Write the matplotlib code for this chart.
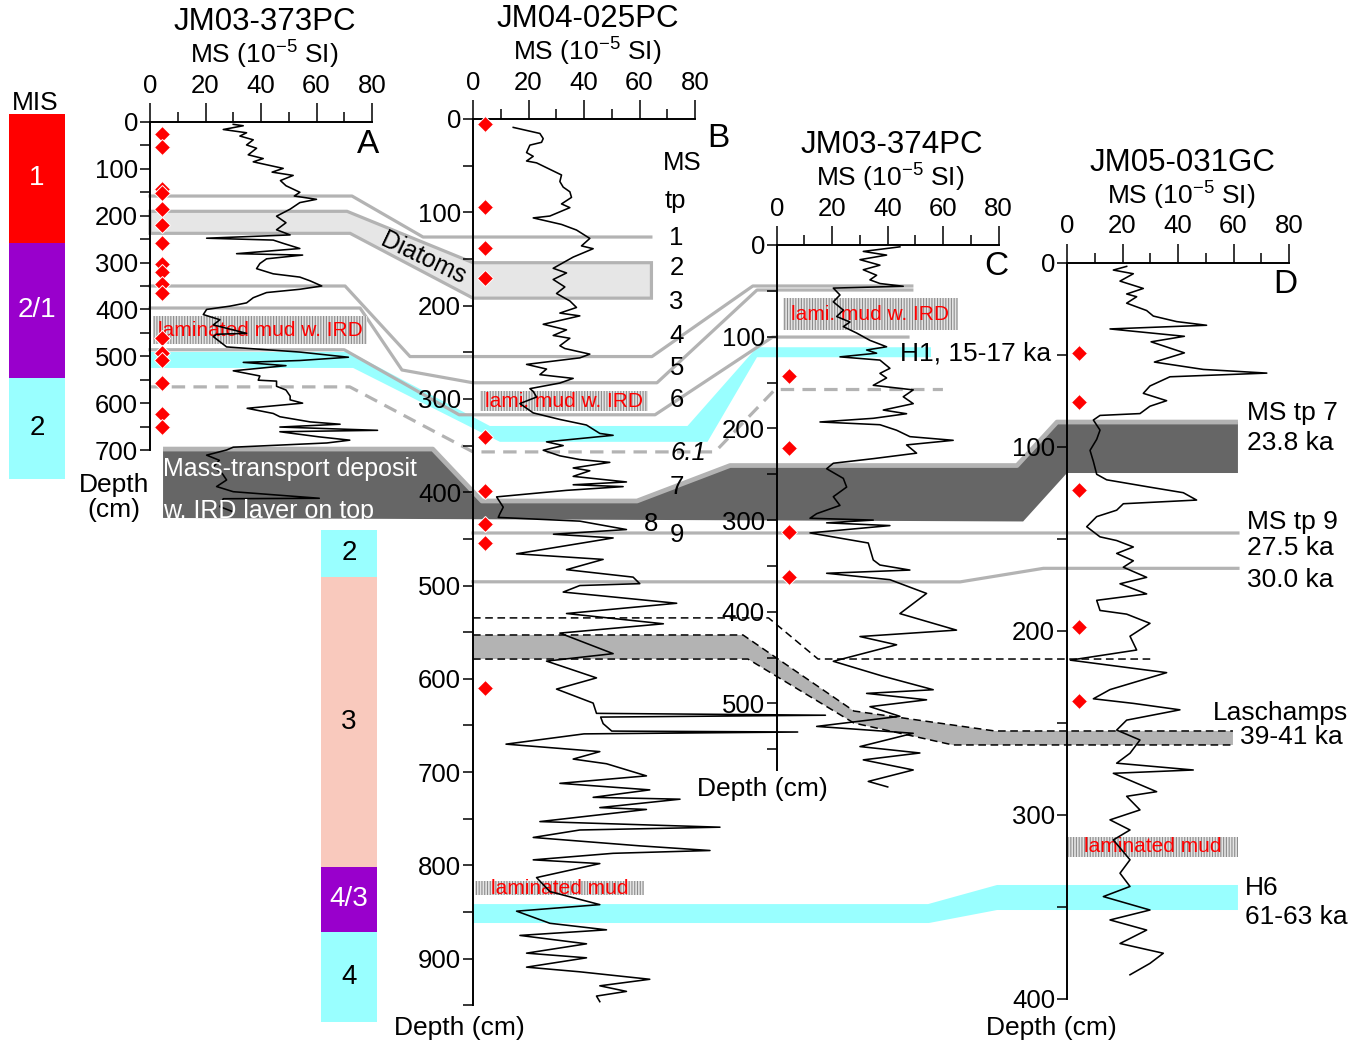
import numpy as np
import matplotlib
matplotlib.use("Agg")
import matplotlib.pyplot as plt
from matplotlib.patches import Polygon, Rectangle

plt.rcParams["font.family"] = ["Liberation Sans", "DejaVu Sans"]
plt.rcParams["mathtext.fontset"] = "custom"
plt.rcParams["mathtext.rm"] = "Liberation Sans"
plt.rcParams["mathtext.it"] = "Liberation Sans:italic"
plt.rcParams["hatch.linewidth"] = 0.8

W, H = 1362, 1048

# ---- magnetic susceptibility records (depth cm, MS 1e-5 SI) ----
a_depth = [5, 8, 16, 23, 30, 38, 49, 56, 70, 78, 85, 99, 107, 114, 125, 136, 150, 158, 165, 172,
           186, 201, 215, 230, 241, 248, 252, 259, 270, 281, 284, 292, 302, 313, 324, 331, 339, 350,
           357, 364, 375, 386, 393, 400, 411, 422, 433, 451, 453, 458, 469, 480, 491, 502, 509, 513,
           520, 531, 542, 551, 553, 564, 572, 585, 593, 600, 611, 622, 629, 640, 645, 651, 658, 661,
           672, 679, 685, 694, 700, 711, 722, 736, 750, 764, 778, 789, 803, 804, 821, 832]
a_ms = [30, 33.6, 26.4, 34.8, 32.4, 37.2, 34.8, 38.4, 35.4, 40.8, 37.2, 48, 44, 51.6, 47, 49, 54, 52, 60, 54,
        50.5, 45.6, 49, 45.6, 50.5, 20.4, 44.4, 48, 54, 31.2, 55, 42, 39.6, 38.4, 44.4, 54, 57.7, 61.9,
        54, 42, 37.2, 34.8, 28.8, 20.4, 19.2, 25.2, 22.8, 34.8, 24, 22.8, 25.2, 27.6, 54, 71.5, 54, 33.6,
        49, 30, 39.6, 39, 45.6, 45.6, 49, 50.5, 50.5, 55, 35, 44.4, 46.8, 57.7, 68.5, 46.8, 82, 46.8,
        61, 72, 63.7, 30, 27.6, 20.4, 25, 22.8, 26, 27.6, 24, 30, 61, 26.4, 25.2, 30]

b_depth = [9, 15.5, 21, 25, 28, 36, 40, 45, 47, 60, 67, 73, 78, 84, 91, 95, 104, 106, 113, 119,
           128, 136, 139, 148, 160, 165, 172, 180, 187, 195, 202, 208, 211, 220, 226, 232, 235, 243,
           246, 252, 256, 263, 268, 274, 278, 283, 289, 292, 298, 305, 315, 322, 328, 337, 339, 346,
           350, 355, 361, 365, 368, 374, 377, 383, 389, 392, 394, 398, 405, 416, 423, 427, 431, 440,
           445, 449, 466, 472, 483, 491, 498, 500, 507, 519, 530, 541, 551, 573, 581, 599, 611, 626,
           637, 639, 641, 648, 656, 657, 659, 670, 678, 686, 691, 704, 712, 719, 727, 729, 738, 740,
           753, 759, 762, 770, 779, 784, 787, 794, 798, 813, 828, 842, 849, 862, 869, 875, 884, 894,
           899, 909, 914, 922, 929, 935, 940, 946]
b_ms = [14.5, 24.1, 25.3, 24.7, 20.5, 19.3, 21.7, 19.3, 22.9, 31.9, 31.3, 32.5, 34.9, 35.5, 31.9, 34.9,
        27.7, 21.7, 31.9, 37.3, 42.1, 39.1, 43.3, 36.1, 28.9, 33.7, 28.9, 33.1, 30.1, 34.9, 37.3, 31.3,
        38.5, 25.3, 33.7, 28.9, 34.9, 31.3, 33.1, 42.1, 38.5, 19.3, 26.5, 24.1, 36.1, 31.3, 20.5, 21.7,
        22.9, 16.9, 21.7, 31.3, 40.9, 45.7, 50.5, 26.5, 32.5, 25.3, 31.3, 38.5, 49.3, 36.1, 42.1, 36.1,
        55.3, 36.1, 54.1, 33.7, 8.5, 10.9, 9.7, 9.1, 38.5, 55.3, 29, 50.5, 15.7, 46.9, 33.7, 57.7, 60.1,
        38.5, 32.5, 73.4, 33.7, 68.6, 31.3, 50.5, 26.5, 44.5, 30.1, 43.3, 44.5, 127, 46, 46.9, 50, 117,
        40, 11.9, 45.7, 36.1, 48.1, 62.5, 31.3, 63.7, 43.3, 74.6, 45.7, 62.5, 24.1, 89, 38.5, 21.7, 60.1,
        85.4, 50.5, 21.7, 45.7, 22.9, 27.7, 45.7, 15.7, 27.7, 48.1, 16.9, 40.9, 19.3, 40.9, 19.3, 38.5,
        63.7, 45.7, 55.3, 44.5, 45.7]

c_depth = [2, 7, 11, 16, 22, 27, 33, 38, 42, 45, 47, 54.5, 62, 71, 78, 84, 89, 96, 104, 111, 114.5,
           118, 122, 125.5, 134.5, 140, 145, 153, 158, 165.5, 173, 180, 184, 189, 193, 196, 202, 209,
           213, 218, 227, 233, 238, 244, 254.5, 264, 274.5, 284, 293, 298, 300, 303, 306, 314, 325,
           343.5, 349, 354.5, 358, 365, 380, 402, 420, 427, 436, 454, 470, 485, 489, 496, 503.5, 514,
           525, 532.5, 547, 554, 561.5, 572.5, 585, 591]
c_ms = [44.4, 31.2, 39.6, 30, 37.2, 31.2, 36, 33.6, 37.2, 45.6, 20.4, 22.8, 20.4, 24, 21.6, 26.4, 24,
        28.8, 33.6, 39.6, 32.4, 36, 22.8, 37.2, 40.8, 37.2, 39.6, 34.8, 49.2, 45.6, 49.2, 38.4, 46.8,
        34.8, 15.6, 37.2, 43.2, 48, 63.6, 46.8, 50.4, 34.8, 20.4, 18, 24, 25.2, 20.4, 22.8, 14.4, 12,
        34.8, 18, 40.8, 12, 33, 34.8, 37.2, 48, 18, 40.8, 54, 44.4, 64.8, 30, 43.2, 20.4, 38, 56.4, 32.4,
        54, 33.6, 44.4, 14.4, 49.2, 30, 51.6, 31.2, 49.2, 33, 40]

d_depth = [2, 4, 6, 10, 14, 17, 18.5, 22, 26, 29, 32, 34, 36, 40, 43, 49, 54, 58, 60, 62, 67, 71, 75,
           78, 82, 83, 85.5, 91, 96, 102, 108, 115, 118, 122, 125, 129, 131, 134.5, 138, 143.5, 149,
           151, 154.5, 158, 162, 165.5, 171, 174.5, 180, 183.5, 189, 191, 196, 203, 210.5, 216, 222.8,
           232, 237, 239.5, 243, 248.6, 254, 259.4, 266.6, 272, 275.7, 277.5, 287.5, 290, 297.4, 302.8,
           308.3, 313.7, 324.5, 331.8, 339, 344.5, 351.8, 357.2, 362.7, 370, 375.3, 380.8, 387]
d_ms = [21.5, 16.7, 23.9, 19.1, 27.5, 21.5, 25.1, 21.5, 28.7, 31.1, 39.5, 50.3, 15.5, 42.3, 30.3, 42.3,
        31.5, 49.1, 72, 37.1, 29.9, 27.5, 35.9, 29.9, 26.3, 11.9, 9.5, 11.9, 10.7, 8.3, 9.5, 10.7, 14.3,
        29.9, 41.9, 46.7, 20.3, 17.9, 10.7, 7.1, 11.9, 17.9, 23.9, 17.9, 23.9, 20.3, 28.7, 19.1, 28.7,
        10.7, 11.9, 21.5, 29.9, 22.7, 25.1, 1.2, 35.9, 15.5, 9.5, 23.9, 40.7, 21.5, 17.9, 26.3, 22.7,
        17.9, 45.5, 16.7, 32.3, 21.5, 26.3, 15.5, 22.7, 16.7, 22.7, 19.1, 22.7, 13.1, 29.9, 15.5, 28.7,
        19.1, 34.7, 29.9, 22.7]

# dated levels (red diamonds), depth in cm
a_dates = [25, 54, 143, 152, 185, 220, 259, 304, 320, 345, 366, 461, 494, 508, 558, 624, 651]
b_dates = [5, 94, 138, 170, 341, 399, 434, 454, 610]
c_dates = [143, 221, 313, 362]
d_dates = [49, 75.5, 123.5, 198, 238]

# marine isotope stages beside the cores
mis_upper_bounds = [-17, 258, 546, 762]
mis_upper_labels = ["1", "2/1", "2"]
mis_lower_bounds = [440, 491, 802, 871, 968]
mis_lower_labels = ["2", "3", "4/3", "4"]

# MS tie points labelled along core B
tp_labels = ["1", "2", "3", "4", "5", "6", "6.1", "7", "8", "9"]
tp_depth = [128, 160, 196, 233, 267, 301, 358, 394, 434, 446]

# laminated intervals: (core, MS left, MS right, depth top, depth base, text)
lam_layers = [("A", 1.2, 78.1, 415, 473, "laminated mud w. IRD"),
              ("B", 2.5, 63.2, 292, 313, "lami. mud w. IRD"),
              ("C", 2.3, 65.3, 58, 93, "lami. mud w. IRD"),
              ("B", 0.7, 61.7, 817, 832, "laminated mud"),
              ("D", 0.4, 61.5, 312, 323, "laminated mud")]

# correlation ties between cores: (core, MS-axis position, depth)
tp1_line = [("A", 0, 158), ("A", 72.8, 158), ("B", -18, 126.5), ("B", 64.1, 126.5)]
diatom_top = [("A", 0, 190.6), ("A", 71, 190.6), ("B", 0, 154), ("B", 64.3, 154)]
diatom_bot = [("A", 0, 237.6), ("A", 72.1, 237.6), ("B", 0, 192), ("B", 64.3, 192)]
tp45_line = [("A", 0, 350), ("A", 70.3, 350), ("B", -22.7, 254.6), ("B", 64.5, 254.6),
             ("C", -8.6, 44.7), ("C", 48.7, 44.7)]
tp55_line = [("A", 0, 397), ("A", 75.7, 397), ("B", -25.6, 269), ("B", 0, 282.7), ("B", 66.3, 282.7),
             ("C", -7.1, 49.1), ("C", 48.7, 49.1)]
tp6_line = [("A", 0, 486), ("A", 70, 486), ("B", -5, 317), ("B", 65.6, 317),
            ("C", -1.5, 100.4), ("C", 47.3, 100.4)]
h1_top = [("A", 0, 490.8), ("A", 72, 490.8), ("B", 6.1, 329), ("B", 77.3, 329),
          ("C", -7.1, 111.5), ("C", 55.6, 111.5)]
h1_bot = [("A", 0, 524.9), ("A", 73.2, 524.9), ("B", 9.7, 346), ("B", 84.5, 346),
          ("C", -7.1, 122.4), ("C", 55.6, 122.4)]
tp61_line = [("A", 0, 565.3), ("A", 72, 565.3), ("B", 0, 356.8), ("B", 87.2, 356.8),
             ("C", -0.6, 157.6), ("C", 59.9, 157.6)]
mtd_top = [("A", 4.7, 698), ("A", 101.9, 698), ("B", 3.2, 409.4), ("B", 59.1, 409.4),
           ("C", -16.8, 240.5), ("C", 86.6, 240.5), ("D", -3.6, 86.6), ("D", 61.6, 86.6)]
mtd_bot = [("A", 4.7, 845), ("C", 88.8, 301.5), ("D", 0, 114.3), ("D", 61.6, 114.3)]
tp9_line = [("B", 0, 443.7), ("D", 61.6, 146.9)]
ka30_line = [("B", 0, 496), ("C", 66.1, 367.4), ("D", -8.5, 166.1), ("D", 61.6, 166.1)]
black_dash = [("B", 0, 534.7), ("B", 106.5, 534.7), ("C", 14.9, 451.5), ("D", 30, 215.4)]
lasch_top = [("B", 0, 553), ("B", 97.3, 553), ("C", 27.8, 508.2), ("D", -26, 254.5), ("D", 59.8, 254.5)]
lasch_bot = [("B", 0, 578.8), ("B", 99.1, 578.8), ("C", 27.8, 521.3), ("D", -41.1, 262.1),
             ("D", 59.8, 262.1)]
h6_top = [("B", 0, 841.4), ("B", 164, 841.4), ("D", -25.2, 338.2), ("D", 61.6, 338.2)]
h6_bot = [("B", 0, 861.7), ("B", 164.3, 861.7), ("D", -25.2, 351.8), ("D", 61.6, 351.8)]

RED, PURPLE, CYAN, PINK = "#ff0000", "#9900cc", "#99ffff", "#f9c9bd"
LGRAY, DGRAY = "#b3b3b3", "#666666"

fig = plt.figure(figsize=(W / 100, H / 100), dpi=100)
ov = fig.add_axes([0, 0, 1, 1], zorder=0)
ov.set_xlim(0, W)
ov.set_ylim(0, H)
ov.axis("off")

# core panels: key, pixel box (left, top, right, bottom), max depth, title
layout = [("A", (150, 122, 372, 450), 700, "JM03-373PC"),
          ("B", (473, 119, 695, 1005.4), 950, "JM04-025PC"),
          ("C", (776.7, 245, 998.7, 769.5), 572, "JM03-374PC"),
          ("D", (1067, 262.7, 1289, 998.7), 400, "JM05-031GC")]
axes = {}
for key, (x0, y0, x1, y1), dmax, title in layout:
    ax = fig.add_axes([x0 / W, 1 - y1 / H, (x1 - x0) / W, (y1 - y0) / H], zorder=1)
    ax.patch.set_alpha(0)
    ax.set_xlim(0, 80)
    ax.set_ylim(dmax, 0)
    ax.xaxis.set_ticks_position("top")
    ax.set_xticks([0, 20, 40, 60, 80])
    ax.set_xticks([10, 30, 50, 70], minor=True)
    ax.set_yticks(np.arange(0, dmax + 1, 100))
    ax.set_yticks(np.arange(50, dmax + 1, 100), minor=True)
    ax.tick_params(axis="x", which="major", direction="out", length=13.5, width=1.1, pad=4,
                   labelsize=18.5)
    ax.tick_params(axis="x", which="minor", direction="out", length=7, width=1.1)
    ax.tick_params(axis="y", which="both", direction="out", length=7, width=1.1, pad=1.5,
                   labelsize=18.5)
    for s in ("right", "bottom"):
        ax.spines[s].set_visible(False)
    for s in ("left", "top"):
        ax.spines[s].set_linewidth(1.4)
    ax.annotate(title, xy=(0.5, 1), xycoords="axes fraction", xytext=(3, 72),
                textcoords="offset points", ha="center", va="center", fontsize=22.5)
    ax.annotate(r"MS (10$^{-5}$ SI)", xy=(0.5, 1), xycoords="axes fraction", xytext=(2, 48),
                textcoords="offset points", ha="center", va="center", fontsize=19)
    axes[key] = ax


def px(pts):
    return np.array([axes[c].transData.transform((m, d)) for c, m, d in pts])


def band(top, bot, **kw):
    p = Polygon(np.vstack([px(top), px(bot)[::-1]]), closed=True, **kw)
    ov.add_patch(p)
    return p


def line(pts, **kw):
    xy = px(pts)
    ov.plot(xy[:, 0], xy[:, 1], **kw)


# correlation bands and tie lines
mtd = band(mtd_top, mtd_bot, facecolor=DGRAY, edgecolor="none", zorder=1)
line(mtd_top, color=LGRAY, lw=3.4, solid_capstyle="butt", zorder=1.1)
band(lasch_top, lasch_bot, facecolor=LGRAY, edgecolor="none", zorder=1)
for edge in (lasch_top, lasch_bot, black_dash):
    line(edge, color="black", lw=1.1, ls=(0, (5, 3)), zorder=1.3)
band(h1_top, h1_bot, facecolor=CYAN, edgecolor="none", zorder=1)
band(h6_top, h6_bot, facecolor=CYAN, edgecolor="none", zorder=1)
band(diatom_top, diatom_bot, facecolor="#e6e6e6", edgecolor=LGRAY, lw=2.3, zorder=1.2)
for tie in (tp1_line, tp45_line, tp55_line, tp6_line, tp9_line, ka30_line):
    line(tie, color=LGRAY, lw=2.3, zorder=1.2)
line(tp61_line, color=LGRAY, lw=2.3, ls=(0, (4.2, 2.6)), zorder=1.2)

# MTD caption, clipped to the deposit outline
for txt, dep in (("Mass-transport deposit", 740), ("w. IRD layer on top", 830)):
    t = axes["A"].text(4.7, dep, txt, color="white", fontsize=18, ha="left", va="center", zorder=3)
    t.set_clip_path(mtd)

dx, dy = px([("A", 98.5, 290.9)])[0]
ov.text(dx, dy, "Diatoms", fontsize=18, rotation=-25.6, ha="center", va="center",
        rotation_mode="anchor", zorder=2)

# MIS columns
mis_sets = [("A", -50.8, -30.6, mis_upper_bounds, mis_upper_labels, [RED, PURPLE, CYAN]),
            ("B", -54.8, -34.6, mis_lower_bounds, mis_lower_labels, [CYAN, PINK, PURPLE, CYAN])]
for core, m0, m1, bounds, labels, cols in mis_sets:
    for i, lab in enumerate(labels):
        (xa, ya), (xb, yb) = px([(core, m0, bounds[i]), (core, m1, bounds[i + 1])])
        ov.add_patch(Rectangle((xa, yb), xb - xa, ya - yb, facecolor=cols[i], edgecolor="none",
                               zorder=1))
        tc = "white" if cols[i] in (RED, PURPLE) else "black"
        ov.text((xa + xb) / 2, (ya + yb) / 2, lab, color=tc, fontsize=20, ha="center",
                va="center", zorder=2)
axes["A"].text(-41.4, -40, "MIS", fontsize=19, ha="center", va="center")

# laminated intervals
for core, m0, m1, d0, d1, txt in lam_layers:
    ax = axes[core]
    ax.add_patch(Rectangle((m0, d0), m1 - m0, d1 - d0, facecolor="#e4e4e4", edgecolor="#8c8c8c",
                           hatch="||||||", lw=0, zorder=1.2, clip_on=False))
    ax.text((m0 + m1) / 2, (d0 + d1) / 2, txt, color=RED, fontsize=15, ha="center",
            va="center", zorder=1.5, clip_on=False)

# MS curves and dated levels
for key, dep, ms, dates in (("A", a_depth, a_ms, a_dates), ("B", b_depth, b_ms, b_dates),
                            ("C", c_depth, c_ms, c_dates), ("D", d_depth, d_ms, d_dates)):
    ax = axes[key]
    ax.plot(ms, dep, color="black", lw=1.15, clip_on=False, zorder=2)
    ax.plot([4.5] * len(dates), dates, "D", color=RED, ms=8.5, mec="white", mew=0.7,
            clip_on=False, zorder=4)

# panel letters
for key, m, d in (("A", 78.6, 48.6), ("B", 88.3, 21), ("C", 79.3, 23.6), ("D", 78.6, 12.1)):
    axes[key].text(m, d, key, fontsize=24, ha="center", va="center")

# tie-point labels along core B
axB = axes["B"]
axB.text(75.5, 47, "MS", fontsize=18.5, ha="center", va="center")
axB.text(73, 87.5, "tp", fontsize=18.5, ha="center", va="center")
for lab, dep in zip(tp_labels, tp_depth):
    m = {"6.1": 77.5, "8": 64}.get(lab, 73.4)
    axB.text(m, dep, lab, fontsize=18.5, ha="center", va="center",
             style="italic" if lab == "6.1" else "normal")

# event annotations
axes["C"].text(44.4, 118, "H1, 15-17 ka", fontsize=19, ha="left", va="center", zorder=3)
axD = axes["D"]
for txt, m, d in (("MS tp 7", 64.8, 81.8), ("23.8 ka", 64.8, 98.2), ("MS tp 9", 64.8, 140.8),
                  ("27.5 ka", 64.8, 155.2), ("30.0 ka", 64.8, 172.4), ("Laschamps", 52.7, 244.9),
                  ("39-41 ka", 62.2, 257.6), ("H6", 64.2, 340), ("61-63 ka", 64.2, 355.4)):
    axD.text(m, d, txt, fontsize=19, ha="left", va="center")

# depth axis titles
axes["A"].text(-13, 802, "Depth\n(cm)", fontsize=19, ha="center", va="center", linespacing=1.05)
axes["B"].text(-5, 974, "Depth (cm)", fontsize=19, ha="center", va="center")
axes["C"].text(-5.3, 593, "Depth (cm)", fontsize=19, ha="center", va="center")
axes["D"].text(-5.8, 416, "Depth (cm)", fontsize=19, ha="center", va="center")

fig.savefig("out.png", dpi=100, facecolor="white")
